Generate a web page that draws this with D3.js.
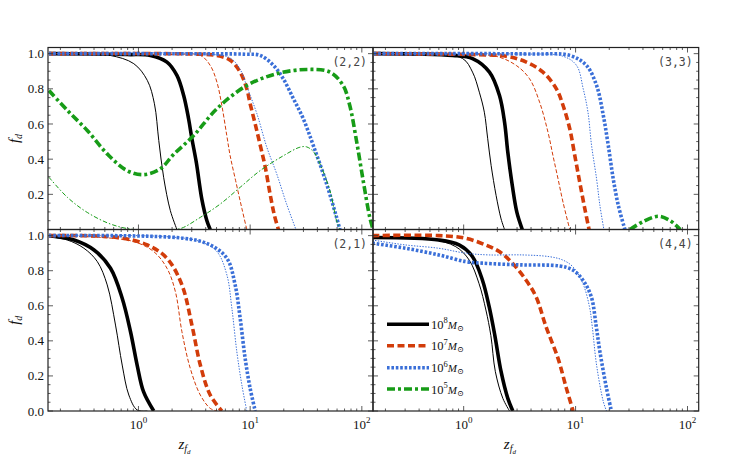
<!DOCTYPE html>
<html><head><meta charset="utf-8">
<script src="https://cdn.jsdelivr.net/npm/d3@7"></script>
<style>body{margin:0;background:#fff}</style>
</head><body><svg id="c" width="747" height="460"></svg>
<script>
// ---------- data (z, f_d) ----------
const panelLabels = ["(2,2)", "(3,3)", "(2,1)", "(4,4)"];
const massLabels = ["8", "7", "6", "5"];
const xTickValues = [1, 10, 100];
const xTickLabels = ["0", "1", "2"];
const yTickTop = [0.2, 0.4, 0.6, 0.8, 1.0];
const yTickBottom = [0.0, 0.2, 0.4, 0.6, 0.8, 1.0];

// panel (2,2)
const p22_m8_thin = [[0.158,1.0],[0.35,0.998],[0.56,0.99],[0.908,0.943],[1.2,0.848],[1.39,0.715],[1.52,0.506],[1.68,0.297],[1.93,0.107],[2.21,0]];
const p22_m8_thick = [[0.158,1.0],[0.79,0.995],[1.28,0.99],[1.8,0.952],[2.21,0.876],[2.54,0.762],[2.81,0.63],[3.01,0.516],[3.3,0.38],[3.7,0.17],[4.1,0.05],[4.39,0]];
const p22_m7_thin = [[0.158,1.0],[2.0,0.995],[3.58,0.99],[4.39,0.933],[5.04,0.838],[5.58,0.705],[6.18,0.534],[6.62,0.42],[7.4,0.28],[8.43,0.12],[9.33,0]];
const p22_m7_thick = [[0.158,1.0],[3.0,0.998],[5.0,0.99],[6.63,0.962],[8.14,0.895],[9.33,0.8],[10,0.715],[11.1,0.6],[12.3,0.48],[13.6,0.36],[15.1,0.2],[16.5,0.08],[17.9,0]];
const p22_m6_thin = [[0.158,1.0],[4.0,0.998],[6.63,0.975],[8.14,0.91],[9.5,0.8],[11.5,0.658],[14.1,0.468],[17.3,0.316],[21.2,0.145],[25.7,0]];
const p22_m6_thick = [[0.158,1.0],[5.0,0.999],[9.0,0.997],[12.3,0.99],[16.2,0.933],[19.8,0.857],[24.4,0.744],[29.9,0.63],[36.8,0.477],[48.4,0.259],[59.4,0.069],[63.6,0]];
const p22_m5_thin = [[0.158,0.297],[0.231,0.183],[0.348,0.097],[0.562,0.031],[0.908,0],[1.8,0],[2.37,0.005],[3.58,0.069],[5.4,0.145],[8.14,0.24],[12.3,0.335],[19.9,0.42],[27.9,0.468],[32,0.47],[36.8,0.443],[42.2,0.373],[51.8,0.221],[59.4,0.05],[63.6,0]];
const p22_m5_thick = [[0.158,0.79],[0.231,0.677],[0.348,0.563],[0.525,0.43],[0.79,0.335],[1.11,0.312],[1.57,0.345],[2.05,0.425],[3.12,0.534],[5.04,0.687],[9.33,0.819],[17.3,0.886],[32,0.91],[51.8,0.895],[68,0.819],[78,0.705],[89.5,0.506],[102.8,0.278],[117.8,0.069],[126,0]];

// panel (3,3)
const p33_m8_thin = [[0.158,1.0],[0.5,0.995],[0.98,0.972],[1.2,0.895],[1.38,0.781],[1.53,0.667],[1.64,0.516],[1.76,0.364],[1.95,0.193],[2.16,0.06],[2.32,0]];
const p33_m8_thick = [[0.158,1.0],[0.8,0.99],[1.2,0.972],[1.7,0.895],[2.09,0.762],[2.32,0.61],[2.48,0.439],[2.72,0.25],[2.99,0.097],[3.34,0]];
const p33_m7_thin = [[0.158,1.0],[1.0,0.995],[1.95,0.985],[2.95,0.933],[3.88,0.857],[4.77,0.724],[5.67,0.553],[6.28,0.42],[6.97,0.288],[7.73,0.154],[8.87,0]];
const p33_m7_thick = [[0.158,1.0],[1.2,0.995],[2.4,0.985],[3.63,0.952],[5.11,0.895],[6.74,0.8],[7.73,0.705],[8.87,0.573],[9.84,0.42],[10.9,0.268],[12.1,0.117],[13.2,0]];
const p33_m6_thin = [[0.158,1.0],[3.0,0.998],[7.73,0.985],[10.2,0.933],[11.7,0.8],[12.9,0.667],[13.9,0.477],[15.4,0.288],[16.5,0.136],[17.9,0]];
const p33_m6_thick = [[0.158,1.0],[4.0,0.998],[8.87,0.99],[12.5,0.933],[15.4,0.819],[17.7,0.648],[19.6,0.477],[21.7,0.288],[24.1,0.136],[27.6,0]];
const p33_m5_thick = [[30.7,0],[40,0.045],[55,0.075],[70,0.05],[86,0]];

// panel (2,1)
const p21_m8_thin = [[0.158,0.994],[0.231,0.975],[0.325,0.928],[0.428,0.852],[0.525,0.719],[0.623,0.49],[0.715,0.262],[0.82,0.091],[0.973,0.006],[1.2,0]];
const p21_m8_thick = [[0.158,1.0],[0.265,0.975],[0.4,0.918],[0.562,0.814],[0.715,0.643],[0.849,0.452],[0.973,0.262],[1.11,0.11],[1.37,0]];
const p21_m7_thin = [[0.158,1.0],[0.458,0.99],[0.908,0.966],[1.37,0.909],[1.8,0.814],[2.14,0.681],[2.45,0.452],[2.91,0.243],[3.58,0.091],[4.39,0.015],[5.04,0]];
const p21_m7_thick = [[0.158,1.0],[0.645,0.99],[1.2,0.947],[1.8,0.871],[2.45,0.719],[3.01,0.49],[3.58,0.262],[4.39,0.091],[5.58,0]];
const p21_m6_thin = [[0.158,1.0],[1.8,0.994],[3.58,0.966],[5.04,0.909],[6.19,0.776],[6.86,0.586],[7.6,0.338],[8.43,0.148],[9.33,0]];
const p21_m6_thick = [[0.158,1.0],[2.54,0.985],[4.39,0.947],[6.19,0.871],[7.34,0.719],[8.14,0.529],[9.02,0.3],[10,0.129],[11.1,0]];

// panel (4,4)
const p44_m8_thin = [[0.153,0.985],[0.5,0.98],[0.85,0.937],[1.12,0.861],[1.37,0.728],[1.58,0.576],[1.75,0.43],[1.92,0.224],[2.24,0.072],[2.57,0]];
const p44_m8_thick = [[0.153,0.989],[0.6,0.975],[0.91,0.947],[1.2,0.88],[1.47,0.747],[1.69,0.595],[1.9,0.43],[2.16,0.224],[2.48,0.072],[2.75,0]];
const p44_m7_thick = [[0.153,1.0],[0.6,1.0],[1.04,0.985],[1.57,0.947],[2.08,0.909],[2.73,0.843],[3.6,0.747],[4.43,0.652],[5.44,0.481],[6.97,0.3],[8.28,0.129],[9.5,0]];
const p44_m6_thin = [[0.153,0.975],[0.302,0.947],[0.6,0.928],[1.04,0.9],[1.69,0.89],[3.36,0.89],[5.84,0.88],[7.68,0.861],[9.44,0.823],[11.6,0.728],[13.3,0.595],[14.1,0.48],[15.4,0.262],[17.7,0.053],[18.9,0]];
const p44_m6_thick = [[0.153,0.957],[0.302,0.928],[0.6,0.89],[1.04,0.852],[1.47,0.843],[3.36,0.833],[7.17,0.827],[9.44,0.804],[11.6,0.747],[13.8,0.652],[15.3,0.481],[16.5,0.338],[18.9,0.129],[20.9,0]];

// ---------- assembly ----------
const panels = [
  {label: panelLabels[0], col:0, row:0, series:[
    ["m8","thin",p22_m8_thin],["m8","thick",p22_m8_thick],["m7","thin",p22_m7_thin],["m7","thick",p22_m7_thick],
    ["m6","thin",p22_m6_thin],["m6","thick",p22_m6_thick],["m5","thin",p22_m5_thin],["m5","thick",p22_m5_thick]]},
  {label: panelLabels[1], col:1, row:0, series:[
    ["m8","thin",p33_m8_thin],["m8","thick",p33_m8_thick],["m7","thin",p33_m7_thin],["m7","thick",p33_m7_thick],
    ["m6","thin",p33_m6_thin],["m6","thick",p33_m6_thick],["m5","thick",p33_m5_thick]]},
  {label: panelLabels[2], col:0, row:1, series:[
    ["m8","thin",p21_m8_thin],["m8","thick",p21_m8_thick],["m7","thin",p21_m7_thin],["m7","thick",p21_m7_thick],
    ["m6","thin",p21_m6_thin],["m6","thick",p21_m6_thick]]},
  {label: panelLabels[3], col:1, row:1, series:[
    ["m8","thin",p44_m8_thin],["m8","thick",p44_m8_thick],["m7","thick",p44_m7_thick],
    ["m6","thin",p44_m6_thin],["m6","thick",p44_m6_thick]]}
];

const colors = {m8:"#000000", m7:"#d23c0a", m6:"#3a6fd8", m5:"#179c17"};
const dashes = {
  thick:{m8:null, m7:"7,3.5", m6:"2.6,1.8", m5:"8,3,3,3"},
  thin:{m8:null, m7:"4,2", m6:"1.4,1.4", m5:"4.5,2,1.5,2"}
};
const widths = {thick:3.6, thin:1.0};

const colX = [[48,373],[373,698.7]];
const rowY = [[47.5,229.5],[229.5,411]];
const xDomain = [Math.pow(10,-0.81), Math.pow(10,2.1)];
const yDomain = [0, 1.035];

const svg = d3.select("#c");
const serif = "'Liberation Serif', 'DejaVu Serif', serif";
const defs = svg.append("defs");

panels.forEach((p, i) => {
  const [x0, x1] = colX[p.col];
  const [y0, y1] = rowY[p.row];
  const x = d3.scaleLog().domain(xDomain).range([x0, x1]);
  const y = d3.scaleLinear().domain(yDomain).range([y1, y0]);
  const g = svg.append("g");

  defs.append("clipPath").attr("id","clip"+i).append("rect")
    .attr("x",x0).attr("y",y0).attr("width",x1-x0).attr("height",y1-y0);

  const line = d3.line().x(d => x(d[0])).y(d => y(d[1])).curve(d3.curveCatmullRom.alpha(0.5));
  const lg = g.append("g").attr("clip-path","url(#clip"+i+")");
  p.series.forEach(([m, w, vals]) => {
    lg.append("path").attr("d", line(vals))
      .attr("fill","none").attr("stroke",colors[m])
      .attr("stroke-width",widths[w])
      .attr("stroke-dasharray",dashes[w][m])
      .attr("stroke-linejoin","round");
  });

  // ticks (inward, all sides)
  const tk = g.append("g").attr("stroke","#333").attr("stroke-width",0.8);
  const minor = [];
  [0.1,1,10,100].forEach(dec => { for (let k=2;k<=9;k++){ const v=dec*k; if (v>xDomain[0] && v<xDomain[1]) minor.push(v);} });
  xTickValues.forEach(v => {
    tk.append("line").attr("x1",x(v)).attr("x2",x(v)).attr("y1",y1).attr("y2",y1-5);
    tk.append("line").attr("x1",x(v)).attr("x2",x(v)).attr("y1",y0).attr("y2",y0+5);
  });
  minor.forEach(v => {
    tk.append("line").attr("x1",x(v)).attr("x2",x(v)).attr("y1",y1).attr("y2",y1-2.5);
    tk.append("line").attr("x1",x(v)).attr("x2",x(v)).attr("y1",y0).attr("y2",y0+2.5);
  });
  d3.range(0, 21).map(k => k*0.05).forEach(v => {
    const major = Math.abs(v*5 - Math.round(v*5)) < 1e-6;
    const L = major ? 5 : 2.5;
    tk.append("line").attr("x1",x0).attr("x2",x0+L).attr("y1",y(v)).attr("y2",y(v));
    tk.append("line").attr("x1",x1).attr("x2",x1-L).attr("y1",y(v)).attr("y2",y(v));
  });

  // frame
  g.append("rect").attr("x",x0).attr("y",y0).attr("width",x1-x0).attr("height",y1-y0)
    .attr("fill","none").attr("stroke","#222").attr("stroke-width",1.2);

  // y tick labels (left column only)
  if (p.col === 0) {
    const yt = p.row === 0 ? yTickTop : yTickBottom;
    yt.forEach(v => {
      g.append("text").attr("x",x0-4).attr("y",y(v)).attr("dy","0.35em")
        .attr("text-anchor","end").attr("font-family",serif).attr("font-size",13)
        .attr("fill","#111").text(v.toFixed(1));
    });
    const yl = g.append("text").attr("transform",`translate(19,${(y0+y1)/2}) rotate(-90)`)
      .attr("text-anchor","middle").attr("font-family",serif).attr("fill","#111");
    yl.append("tspan").attr("font-style","italic").attr("font-size",15).text("f");
    yl.append("tspan").attr("font-style","italic").attr("font-size",10).attr("dy",3).text("d");
  }
  // x tick labels (bottom row only)
  if (p.row === 1) {
    xTickValues.forEach((v, k) => {
      const t = g.append("text").attr("x",x(v)).attr("y",429).attr("text-anchor","middle")
        .attr("font-family",serif).attr("fill","#111");
      t.append("tspan").attr("font-size",13).text("10");
      t.append("tspan").attr("font-size",9).attr("dy",-6).text(xTickLabels[k]);
    });
    const xl = g.append("text").attr("x",(x0+x1)/2 - 26).attr("y",449).attr("text-anchor","middle")
      .attr("font-family",serif).attr("fill","#111");
    xl.append("tspan").attr("font-style","italic").attr("font-size",15).text("z");
    xl.append("tspan").attr("font-style","italic").attr("font-size",10).attr("dy",3).text("f");
    xl.append("tspan").attr("font-style","italic").attr("font-size",7).attr("dy",2).text("d");
  }

  // panel label
  g.append("text").attr("x",x1-6).attr("y",y0+18).attr("text-anchor","end")
    .attr("font-family","'DejaVu Sans Mono', monospace").attr("font-size",11.5)
    .attr("fill","#444").text(p.label);
});

// legend (in (4,4) panel)
const legMass = ["m8","m7","m6","m5"];
const legY = [324.3, 345.7, 367.7, 389];
const lgd = svg.append("g");
legMass.forEach((m, k) => {
  lgd.append("line").attr("x1",387).attr("x2",429).attr("y1",legY[k]).attr("y2",legY[k])
    .attr("stroke",colors[m]).attr("stroke-width",widths.thick).attr("stroke-dasharray",dashes.thick[m]);
  const t = lgd.append("text").attr("x",431).attr("y",legY[k]+4.5).attr("font-family",serif).attr("fill","#111");
  t.append("tspan").attr("font-size",12.5).text("10");
  t.append("tspan").attr("font-size",8.5).attr("dy",-5.5).text(massLabels[k]);
  t.append("tspan").attr("font-size",11).attr("font-style","italic").attr("dy",5.5).text("M");
  t.append("tspan").attr("font-size",8).attr("dy",2).text("\u2299");
});
</script></body></html>
